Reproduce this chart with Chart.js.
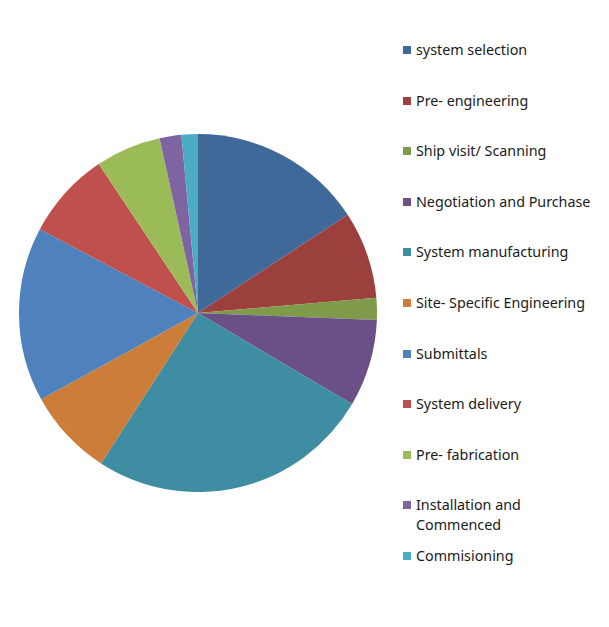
<!DOCTYPE html>
<html>
<head>
<meta charset="utf-8">
<script src="https://cdn.jsdelivr.net/npm/chart.js@4"></script>
<style>
    html, body { margin: 0; padding: 0; background: #fff; }
    body { width: 609px; height: 627px; position: relative; overflow: hidden; font-family: "Noto Sans", sans-serif; }
    #pieBox { position: absolute; left: 19px; top: 134px; width: 358px; height: 358px; }
    #legend { position: absolute; left: 0; top: 0; }
    .item { position: absolute; left: 403px; width: 206px; font-size: 14.3px; line-height: 20px; color: #1a1a1a; }
    .item .sw { position: absolute; left: 0; top: 6px; width: 8px; height: 8px; }
    .item .tx { position: absolute; left: 13px; width: 180px; }
</style>
</head>
<body>
<div id="pieBox"><canvas id="pieChart"></canvas></div>
<div id="legend"></div>
<script>
const labels = [
    'system selection', 'Pre- engineering', 'Ship visit/ Scanning', 'Negotiation and Purchase',
    'System manufacturing', 'Site- Specific Engineering', 'Submittals', 'System delivery',
    'Pre- fabrication', 'Installation and Commenced', 'Commisioning'
];
const values = [8, 4, 1, 4, 13, 4, 8, 4, 3, 1, 0.75];
const colors = [
    '#3F6999', '#9C403D', '#7F9A48', '#6A5086', '#3E8DA2', '#CC7D39',
    '#4F81BD', '#C0504D', '#9BBB59', '#8064A2', '#4BACC6'
];

new Chart(document.getElementById('pieChart'), {
    type: 'pie',
    data: {
        labels: labels,
        datasets: [{
            data: values,
            backgroundColor: colors,
            borderWidth: 0,
        }]
    },
    options: {
        responsive: true,
        maintainAspectRatio: false,
        animation: false,
        layout: { padding: 0 },
        plugins: { legend: { display: false }, tooltip: { enabled: false } }
    }
});

// legend on the right, one row every ~50px
const legend = document.getElementById('legend');
labels.forEach((name, i) => {
    const row = document.createElement('div');
    row.className = 'item';
    row.style.top = (40 + 50.6 * i) + 'px';
    row.innerHTML = '<span class="sw" style="background:' + colors[i] + '"></span><span class="tx">' + name + '</span>';
    legend.appendChild(row);
});
</script>
</body>
</html>
